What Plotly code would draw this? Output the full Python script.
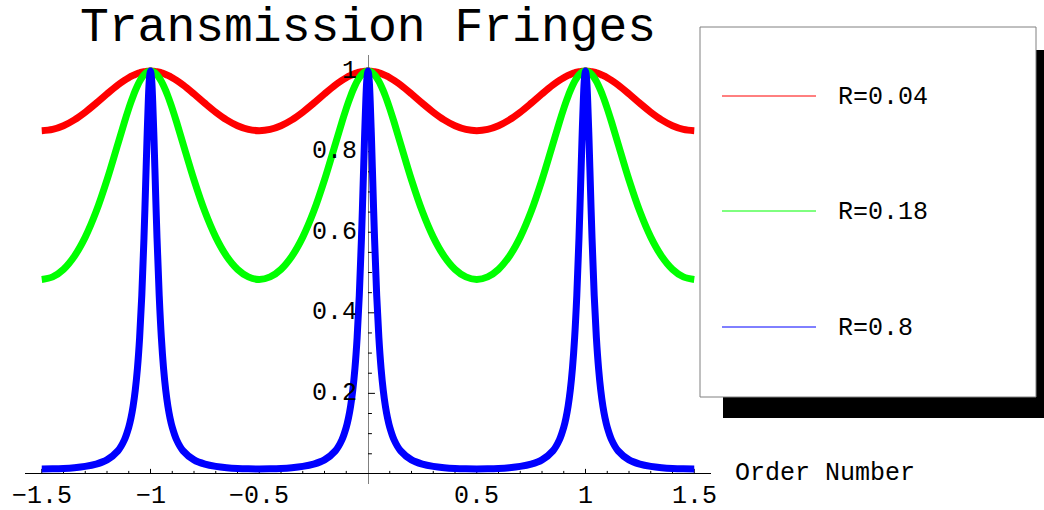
import plotly.graph_objects as go

# ---- data ----
peak_orders = [-1, 0, 1]
offsets = [0, 0.005, 0.01, 0.015, 0.02, 0.03, 0.04, 0.05, 0.06, 0.07, 0.08, 0.09,
           0.1, 0.12, 0.15, 0.2, 0.25, 0.3, 0.35, 0.4, 0.45, 0.5]
red_profile = [1.0, 1.0, 0.9998, 0.9996, 0.9993, 0.9985, 0.9973, 0.9958, 0.9939, 0.9918,
               0.9894, 0.9867, 0.9837, 0.9770, 0.9655, 0.9434, 0.9201, 0.8980, 0.8789,
               0.8643, 0.8552, 0.8521]
green_profile = [1.0, 0.9997, 0.9989, 0.9976, 0.9958, 0.9906, 0.9835, 0.9745, 0.9638, 0.9515,
                 0.9379, 0.9231, 0.9072, 0.8733, 0.8192, 0.7300, 0.6513, 0.5879, 0.5405,
                 0.5080, 0.4891, 0.4829]
blue_profile = [1.0, 0.9806, 0.9268, 0.8493, 0.7602, 0.5853, 0.4431, 0.3381, 0.2625, 0.2081,
                0.1681, 0.1384, 0.1158, 0.0845, 0.0572, 0.0349, 0.0244, 0.0187, 0.0155,
                0.0136, 0.0127, 0.0124]
series_names = ["R=0.04", "R=0.18", "R=0.8"]
series_colors = ["#ff0000", "#00ff00", "#0000ff"]

x_major_ticks = [-1.5, -1, -0.5, 0.5, 1, 1.5]
x_tick_labels = ["\u22121.5", "\u22121", "\u22120.5", "0.5", "1", "1.5"]
x_minor_ticks = [-1.4, -1.3, -1.2, -1.1, -0.9, -0.8, -0.7, -0.6, -0.4, -0.3, -0.2, -0.1,
                 0.1, 0.2, 0.3, 0.4, 0.6, 0.7, 0.8, 0.9, 1.1, 1.2, 1.3, 1.4]
y_major_ticks = [0.2, 0.4, 0.6, 0.8, 1.0]
y_tick_labels = ["0.2", "0.4", "0.6", "0.8", "1"]
y_minor_ticks = [0.05, 0.1, 0.15, 0.25, 0.3, 0.35, 0.45, 0.5, 0.55, 0.65, 0.7, 0.75,
                 0.85, 0.9, 0.95]

title_text = "Transmission Fringes"
xlabel_text = "Order Number"


def build(profile):
    pts = {}
    for c in peak_orders:
        for d, v in zip(offsets, profile):
            pts[round(c - d, 4)] = v
            pts[round(c + d, 4)] = v
    xs = sorted(k for k in pts if -1.5 <= k <= 1.5)
    return xs, [pts[k] for k in xs]


FONT = "Courier, 'Nimbus Mono PS', FreeMono, 'Liberation Mono', monospace"
fig = go.Figure()

def tick_trace(xs, ys):
    return go.Scatter(x=xs, y=ys, mode="lines", line=dict(color="black", width=1),
                      showlegend=False, hoverinfo="skip")

tx, ty = [], []
for t in x_major_ticks:
    tx += [t, t, None]; ty += [0, 0.0125, None]
for t in x_minor_ticks:
    tx += [t, t, None]; ty += [0, 0.0075, None]
for t in y_major_ticks:
    tx += [0, 0.032, None]; ty += [t, t, None]
for t in y_minor_ticks:
    tx += [0, 0.018, None]; ty += [t, t, None]
fig.add_trace(tick_trace(tx, ty))

profiles = [red_profile, green_profile, blue_profile]
for name, col, prof in zip(series_names, series_colors, profiles):
    xs, ys = build(prof)
    fig.add_trace(go.Scatter(x=xs, y=ys, mode="lines", name=name,
                             line=dict(color=col, width=7, shape="spline", smoothing=1),
                             showlegend=False))

annotations = []
for t, lab in zip(x_major_ticks, x_tick_labels):
    annotations.append(dict(x=t, y=0, xref="x", yref="y", text=lab, showarrow=False,
                            xanchor="center", yanchor="top", yshift=-6,
                            font=dict(family=FONT, size=25, color="black")))
for t, lab in zip(y_major_ticks, y_tick_labels):
    annotations.append(dict(x=0, y=t, xref="x", yref="y", text=lab, showarrow=False,
                            xanchor="right", yanchor="middle", xshift=-9,
                            font=dict(family=FONT, size=25, color="black")))
annotations.append(dict(x=733 / 1044, y=0, xref="paper", yref="y", text=xlabel_text,
                        showarrow=False, xanchor="left", yanchor="middle",
                        font=dict(family=FONT, size=25, color="black")))
annotations.append(dict(x=0, y=1 - 28 / 510, xref="x", yref="paper", text=title_text,
                        showarrow=False, xanchor="center", yanchor="middle",
                        font=dict(family=FONT, size=48, color="black")))

W, H = 1044, 510
def px(x):
    return x / W
def py(y):
    return 1 - y / H

shapes = []
shapes.append(dict(type="rect", xref="paper", yref="paper", x0=px(723), x1=px(1050),
                   y0=py(418), y1=py(50), fillcolor="black", line=dict(width=0)))
shapes.append(dict(type="rect", xref="paper", yref="paper", x0=px(700), x1=px(1036),
                   y0=py(397), y1=py(27), fillcolor="white",
                   line=dict(color="#808080", width=1)))
legend_rows = [96, 211, 327]
for name, col, yy in zip(series_names, series_colors, legend_rows):
    shapes.append(dict(type="line", xref="paper", yref="paper", x0=px(722), x1=px(816),
                       y0=py(yy), y1=py(yy), line=dict(color=col, width=1)))
    annotations.append(dict(x=px(836), y=py(yy + 1), xref="paper", yref="paper", text=name,
                            showarrow=False, xanchor="left", yanchor="middle",
                            font=dict(family=FONT, size=25, color="black")))

fig.update_layout(
    width=W, height=H,
    margin=dict(l=0, r=0, t=0, b=0),
    paper_bgcolor="white", plot_bgcolor="white",
    showlegend=False,
    xaxis=dict(domain=[25 / W, 711 / W], range=[-1.577, 1.577], showgrid=False,
               showticklabels=False, ticks="", zeroline=True, zerolinecolor="#808080",
               zerolinewidth=1, showline=False, fixedrange=True),
    yaxis=dict(domain=[py(484), py(55)], range=[-0.025, 1.04], showgrid=False,
               showticklabels=False, ticks="", zeroline=True, zerolinecolor="black",
               zerolinewidth=1, showline=False, fixedrange=True),
    annotations=annotations,
    shapes=shapes,
)

fig.write_html("out.html", config={"displayModeBar": False},
               post_script="document.body.style.margin='0px';")
